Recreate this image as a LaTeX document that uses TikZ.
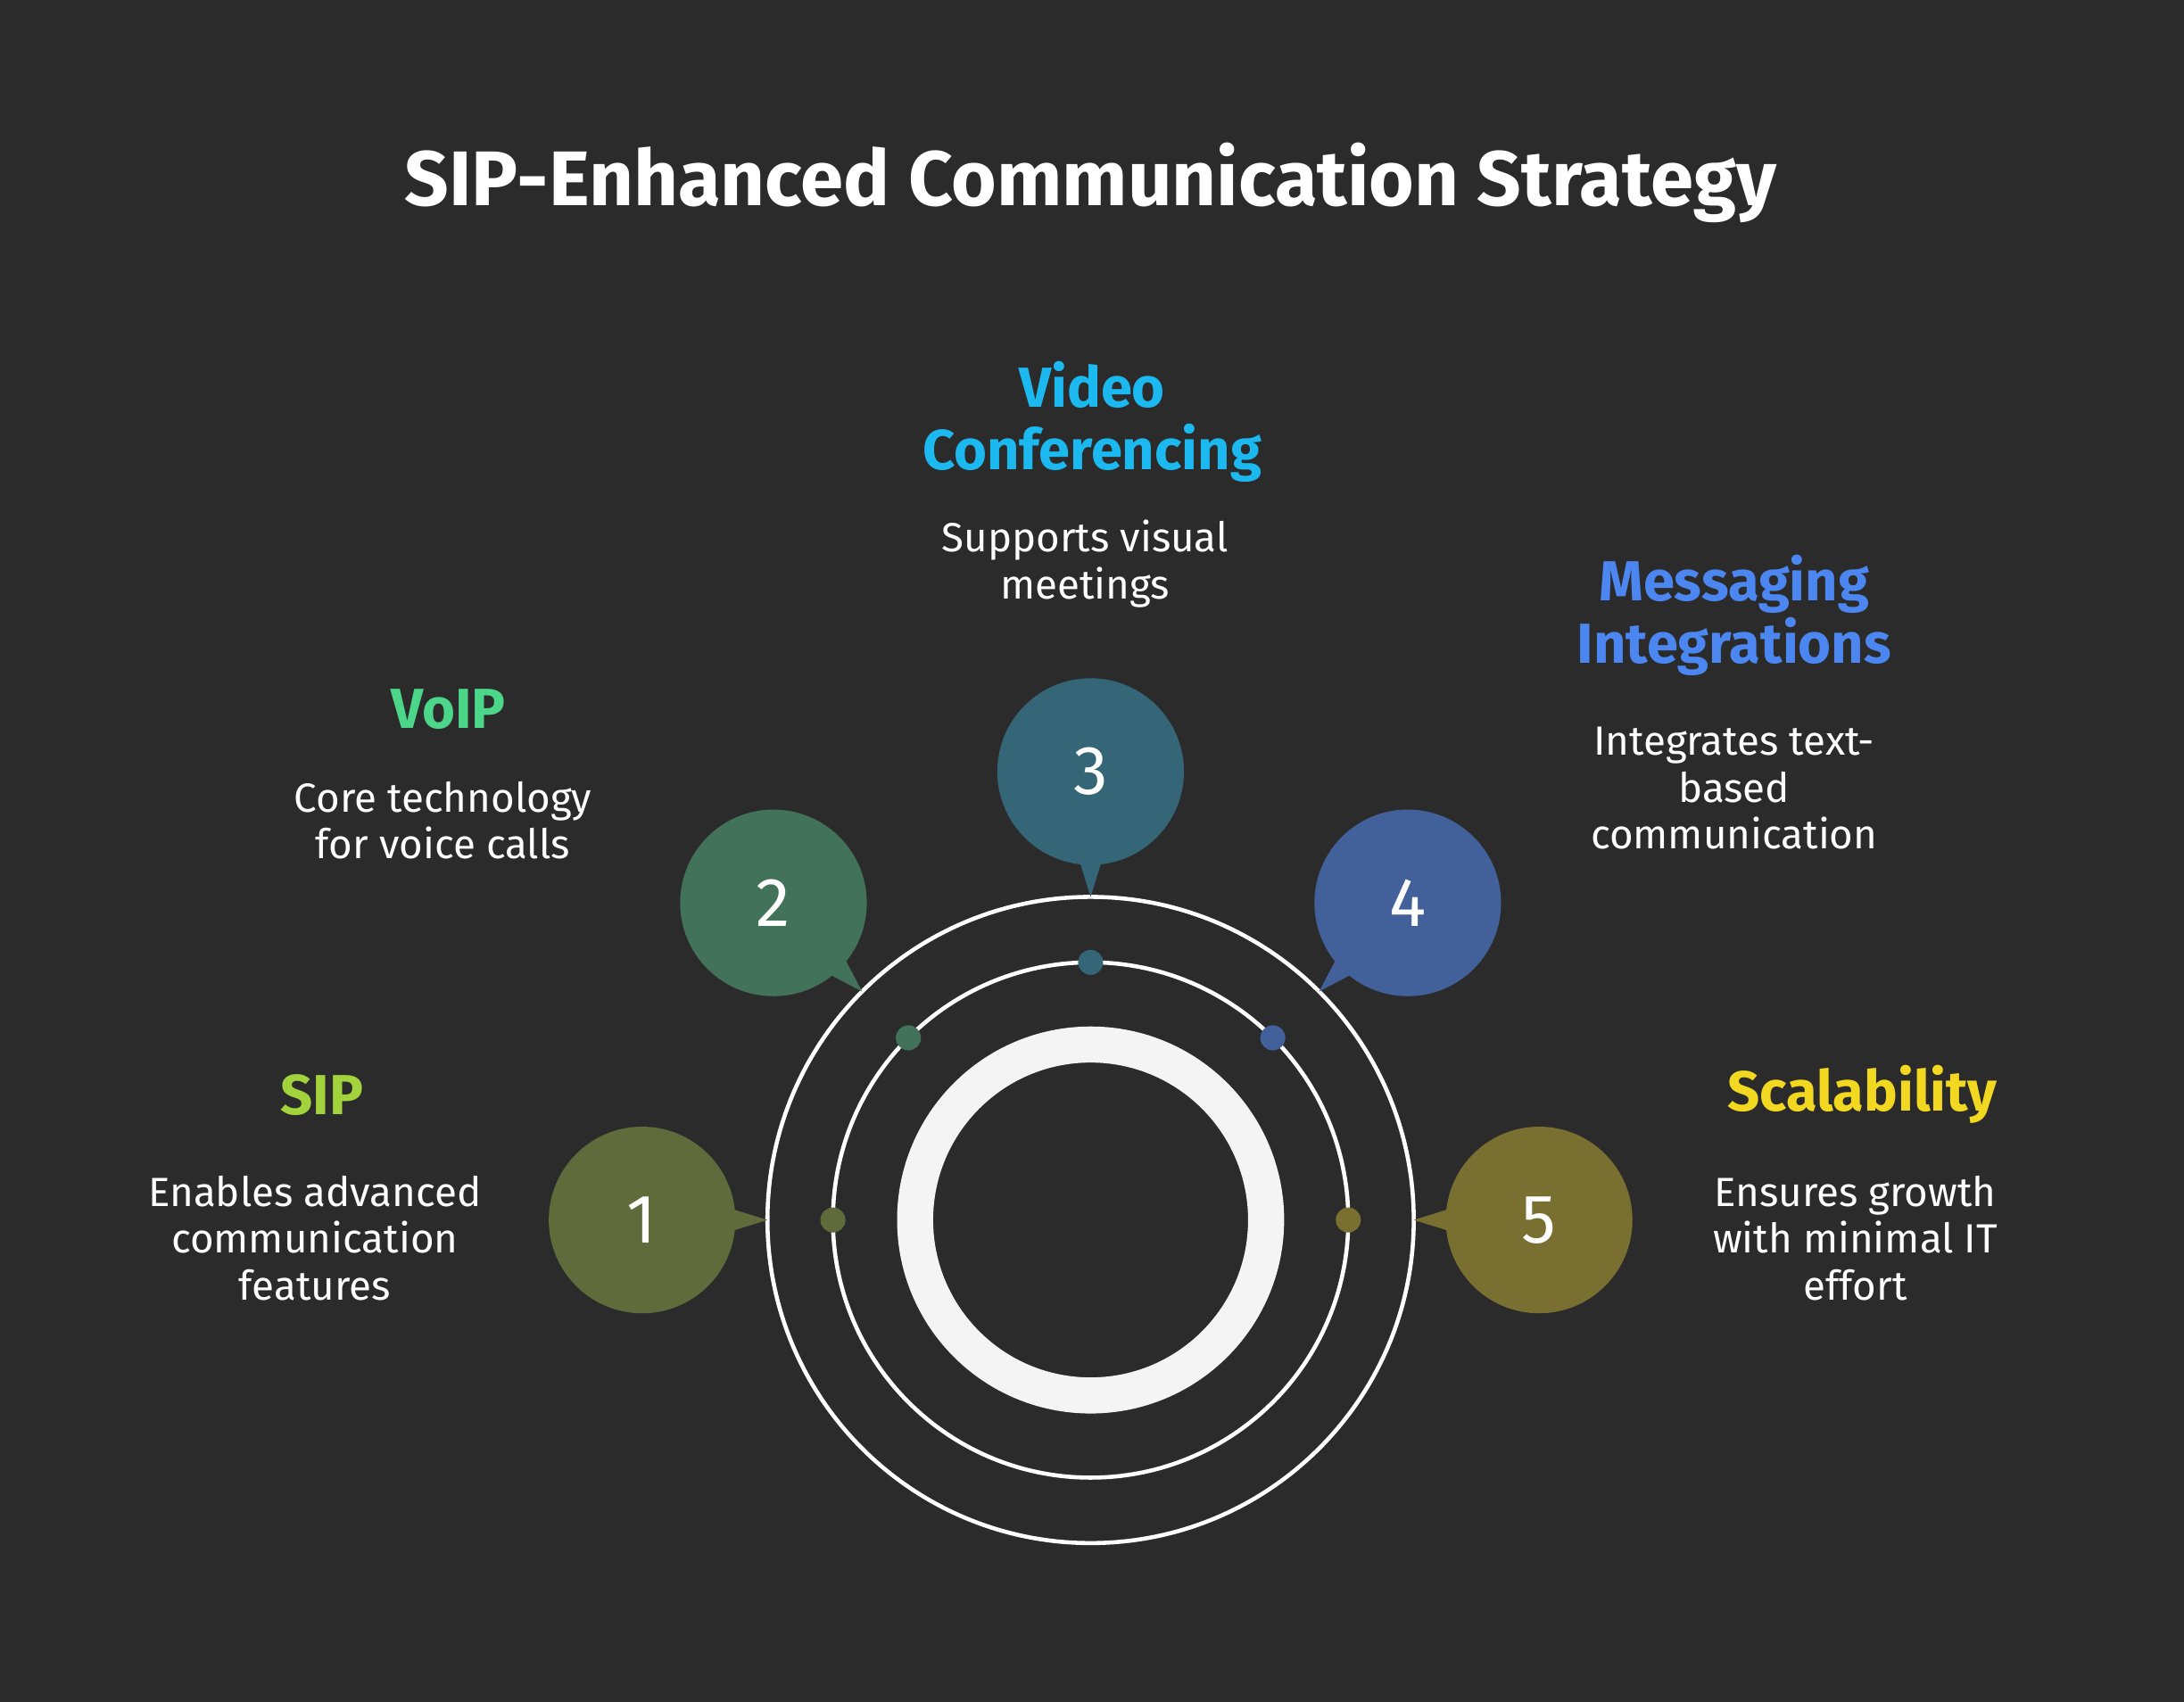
\documentclass[tikz,border=0pt]{standalone}
\usepackage{fontspec}
\setmainfont{Fira Sans}
\usetikzlibrary{calc}
\definecolor{bg}{HTML}{2B2B2B}
\definecolor{ringc}{HTML}{F4F4F4}
\definecolor{cOne}{HTML}{5F6B3A}
\definecolor{cTwo}{HTML}{42735A}
\definecolor{cThree}{HTML}{346678}
\definecolor{cFour}{HTML}{42609A}
\definecolor{cFive}{HTML}{786F30}
\definecolor{tOne}{HTML}{A2D23C}
\definecolor{tTwo}{HTML}{4CD68A}
\definecolor{tThree}{HTML}{1CB8F0}
\definecolor{tFour}{HTML}{4C86F0}
\definecolor{tFive}{HTML}{F2D820}
\tikzset{
  headtext/.style={font=\fontsize{18}{20}\selectfont\bfseries, align=center},
  desctext/.style={text=white, font=\fontsize{13}{15}\selectfont, align=center},
  numtext/.style={text=white, font=\fontsize{22}{24}\selectfont}
}
\begin{document}
\begin{tikzpicture}[x=0.01561cm,y=-0.01561cm]
\fill[bg] (0,0) rectangle (1568,1222);
\useasboundingbox (0,0) rectangle (1568,1222);
\coordinate (center) at (783,876);

\node[text=white, font=\fontsize{24.7}{27}\selectfont\bfseries] (title) at (783,131) {SIP-Enhanced Communication Strategy};

% rings
\draw[white, line width=1.3pt] (center) circle (232);
\draw[white, line width=1.3pt] (center) circle (185);
\draw[ringc, line width=11.5pt] (center) circle (126);

% bubbles with tails and dots
\foreach \ang/\col/\num in {180/cOne/1, -135/cTwo/2, -90/cThree/3, -45/cFour/4, 0/cFive/5} {
  \fill[\col] ($(center)+(\ang:232)$) -- ($(center)+(\ang:290)+(\ang+90:18)$) -- ($(center)+(\ang:290)+(\ang-90:18)$) -- cycle;
  \fill[\col] ($(center)+(\ang:322)$) circle (67);
  \node[numtext] (bubble\num) at ($(center)+(\ang:322)$) {\num};
  \fill[\col] ($(center)+(\ang:185)$) circle (9);
}

% labels
\node[headtext, text=tOne] (sipHead) at (231,786) {SIP};
\node[desctext] (sipDesc) at (226,889) {Enables advanced\\communication\\features};
\node[headtext, text=tTwo] (voipHead) at (322,509) {VoIP};
\node[desctext] (voipDesc) at (318,589) {Core technology\\for voice calls};
\node[headtext, text=tThree] (videoHead) at (784,303) {Video\\Conferencing};
\node[desctext] (videoDesc) at (779,405) {Supports visual\\meetings};
\node[headtext, text=tFour] (msgHead) at (1245,442) {Messaging\\Integrations};
\node[desctext] (msgDesc) at (1245,566) {Integrates text-\\based\\communication};
\node[headtext, text=tFive] (scaleHead) at (1337,786) {Scalability};
\node[desctext] (scaleDesc) at (1332,889) {Ensures growth\\with minimal IT\\effort};
\end{tikzpicture}
\end{document}
